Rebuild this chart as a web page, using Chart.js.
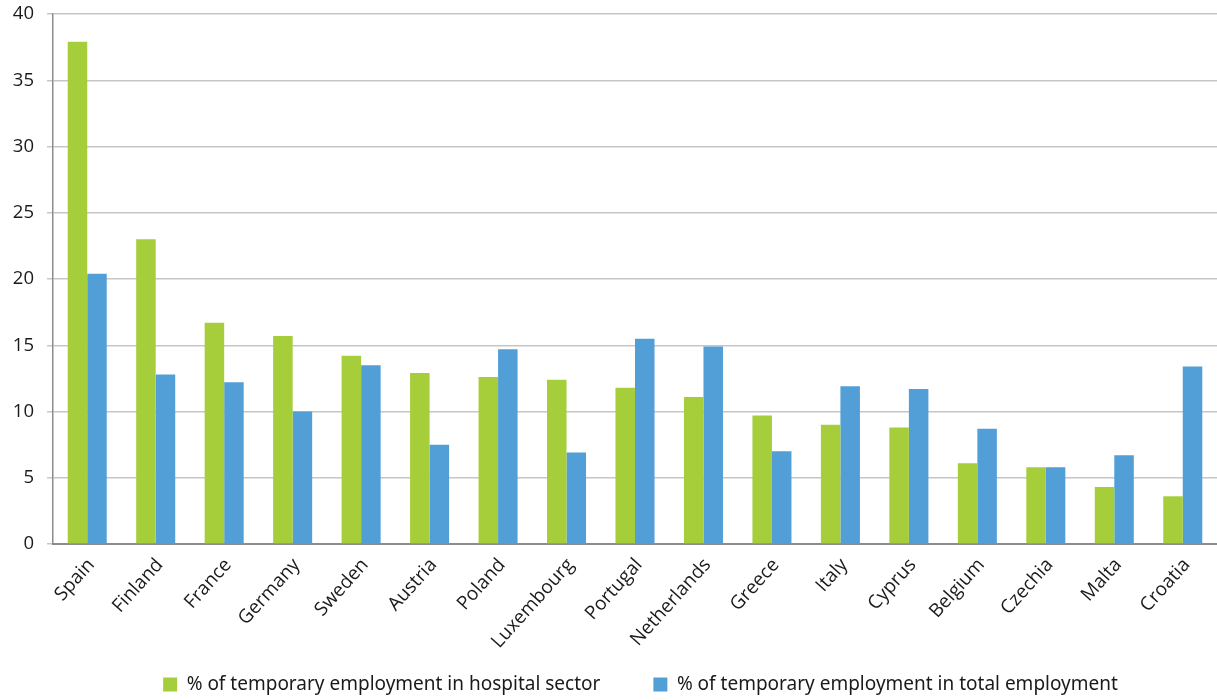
<!DOCTYPE html>
<html>
<head>
<meta charset="utf-8">
<title>Temporary employment</title>
<script src="https://cdn.jsdelivr.net/npm/chart.js@4"></script>
<style>
  html, body { margin: 0; padding: 0; background: #fff; }
  #wrap { width: 1217px; height: 700px; position: relative; }
</style>
</head>
<body>
<div id="wrap"><canvas id="chart"></canvas></div>
<script>
const countries = ['Spain', 'Finland', 'France', 'Germany', 'Sweden', 'Austria', 'Poland', 'Luxembourg',
  'Portugal', 'Netherlands', 'Greece', 'Italy', 'Cyprus', 'Belgium', 'Czechia', 'Malta', 'Croatia'];
const hospitalSector = [37.9, 23.0, 16.7, 15.7, 14.2, 12.9, 12.6, 12.4, 11.8, 11.1, 9.7, 9.0, 8.8, 6.1, 5.8, 4.3, 3.6];
const totalEmployment = [20.4, 12.8, 12.2, 10.0, 13.5, 7.5, 14.7, 6.9, 15.5, 14.9, 7.0, 11.9, 11.7, 8.7, 5.8, 6.7, 13.4];
const yTicks = { min: 0, max: 40, step: 5 };

const fontFamily = '"Open Sans", "Noto Sans", sans-serif';

// the legend keeps a wide gap between items (labels.padding) but only
// reserves a short strip at the bottom; stretch its box upward so the
// row (drawn at top + padding) lands inside it, and push it a bit right
const legendShift = {
  id: 'legendShift',
  afterLayout(chart) {
    const lg = chart.legend;
    if (!lg) return;
    lg.left += 32;
    lg.right += 32;
    lg.top -= 38;
  }
};

document.addEventListener('DOMContentLoaded', () => {
  const ctx = document.getElementById('chart');
  new Chart(ctx, {
    type: 'bar',
    data: {
      labels: countries,
      datasets: [
        {
          label: '% of temporary employment in hospital sector',
          data: hospitalSector,
          backgroundColor: '#a6cd3a',
          borderWidth: 0
        },
        {
          label: '% of temporary employment in total employment',
          data: totalEmployment,
          backgroundColor: '#529fd7',
          borderWidth: 0
        }
      ]
    },
    plugins: [legendShift],
    options: {
      responsive: true,
      maintainAspectRatio: false,
      animation: false,
      layout: { padding: { top: 14, right: 0, left: 0, bottom: 0 } },
      datasets: {
        bar: { categoryPercentage: 0.57, barPercentage: 1.0 }
      },
      scales: {
        x: {
          grid: { display: false, drawTicks: false },
          border: { display: true, color: '#8c8c8c', width: 2 },
          ticks: {
            color: '#1a1a1a',
            font: { family: fontFamily, size: 19 },
            maxRotation: 48,
            minRotation: 48,
            autoSkip: false,
            padding: 10,
            labelOffset: 4
          },
          afterFit: scale => { scale.height = 116; }
        },
        y: {
          min: yTicks.min,
          max: yTicks.max,
          grid: { color: '#c6c6c6', lineWidth: 1.5, tickLength: 6, tickColor: '#c6c6c6' },
          border: { display: true, color: '#8c8c8c', width: 1.5 },
          ticks: {
            stepSize: yTicks.step,
            color: '#1a1a1a',
            font: { family: fontFamily, size: 18.5 },
            padding: 13
          },
          afterFit: scale => {
            scale.width = 53;
            scale.paddingTop = 0;
            scale.paddingBottom = 0;
          }
        }
      },
      plugins: {
        legend: {
          position: 'bottom',
          maxHeight: 40,
          labels: {
            color: '#1a1a1a',
            font: { family: '"Noto Sans", sans-serif', size: 19 },
            boxWidth: 14,
            boxHeight: 14,
            padding: 53
          }
        },
        tooltip: { enabled: false }
      }
    }
  });
});
</script>
</body>
</html>
